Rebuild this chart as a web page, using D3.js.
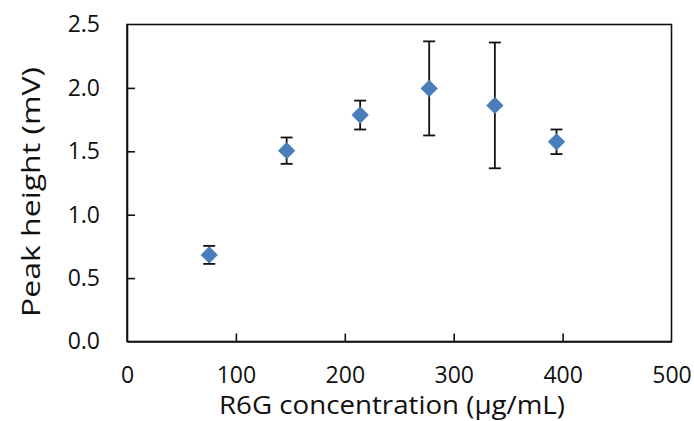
<!DOCTYPE html>
<html><head><meta charset="utf-8">
<script src="https://cdn.jsdelivr.net/npm/d3@7"></script>
<style>
body{margin:0;background:#fff;}
text{font-family:"Open Sans","DejaVu Sans",sans-serif;fill:#111;}
</style></head>
<body><svg id="c" width="694" height="421"></svg>
<script>
const concentrations = [75.5, 146.6, 214.1, 277.5, 337.8, 394.4];
const peakHeights = [0.683, 1.505, 1.786, 1.996, 1.862, 1.575];
const errors = [0.071, 0.104, 0.114, 0.371, 0.496, 0.097];
const xTicks = [0, 100, 200, 300, 400, 500];
const yTicks = [0, 0.5, 1.0, 1.5, 2.0, 2.5];
const xTitle = "R6G concentration (µg/mL)";
const yTitle = "Peak height (mV)";

const svg = d3.select("#c");
const L = 127, R = 671.5, T = 24.5, B = 341.5;
const x = d3.scaleLinear().domain([0, 500]).range([L, R]);
const y = d3.scaleLinear().domain([0, 2.5]).range([B, T]);

svg.append("rect").attr("x", L).attr("y", T).attr("width", R - L).attr("height", B - T)
  .attr("fill", "none").attr("stroke", "#111").attr("stroke-width", 1.6);

const xAxis = svg.append("g").attr("transform", `translate(0,${B})`)
  .call(d3.axisBottom(x).tickValues(xTicks).tickSizeInner(-8).tickSizeOuter(0).tickPadding(25).tickFormat(d3.format("d")));
const yAxis = svg.append("g").attr("transform", `translate(${L},0)`)
  .call(d3.axisLeft(y).tickValues(yTicks).tickSizeInner(-8).tickSizeOuter(0).tickPadding(27).tickFormat(d3.format(".1f")));
[xAxis, yAxis].forEach(a => {
  a.select(".domain").attr("stroke", "#111").attr("stroke-width", 1.6);
  a.selectAll(".tick line").attr("stroke", "#111").attr("stroke-width", 1.6);
  a.selectAll("text").style("font-size", "23px").attr("fill", "#111");
});
xAxis.selectAll(".tick line").filter(d => d === 0 || d === 500).remove();
yAxis.selectAll(".tick line").filter(d => d === 0 || d === 2.5).remove();

const data = concentrations.map((c, i) => ({c, v: peakHeights[i], e: errors[i]}));
const eg = svg.append("g").attr("stroke", "#111").attr("stroke-width", 1.8);
data.forEach(d => {
  eg.append("line").attr("x1", x(d.c)).attr("x2", x(d.c)).attr("y1", y(d.v + d.e)).attr("y2", y(d.v - d.e));
  eg.append("line").attr("x1", x(d.c) - 6).attr("x2", x(d.c) + 6).attr("y1", y(d.v + d.e)).attr("y2", y(d.v + d.e));
  eg.append("line").attr("x1", x(d.c) - 6).attr("x2", x(d.c) + 6).attr("y1", y(d.v - d.e)).attr("y2", y(d.v - d.e));
});
const sym = d3.symbol().type(d3.symbolSquare).size(150);
svg.append("g").selectAll("path").data(data).join("path")
  .attr("d", sym)
  .attr("transform", d => `translate(${x(d.c)},${y(d.v)}) rotate(45)`)
  .attr("fill", "#4a7ebb");

svg.append("text").attr("x", 392).attr("y", 414).attr("text-anchor", "middle")
  .attr("textLength", 346).attr("lengthAdjust", "spacingAndGlyphs")
  .style("font-size", "25px").text(xTitle);
svg.append("text").attr("transform", `translate(40,192) rotate(-90)`).attr("text-anchor", "middle")
  .attr("textLength", 250).attr("lengthAdjust", "spacingAndGlyphs")
  .style("font-size", "25px").text(yTitle);
</script></body></html>
